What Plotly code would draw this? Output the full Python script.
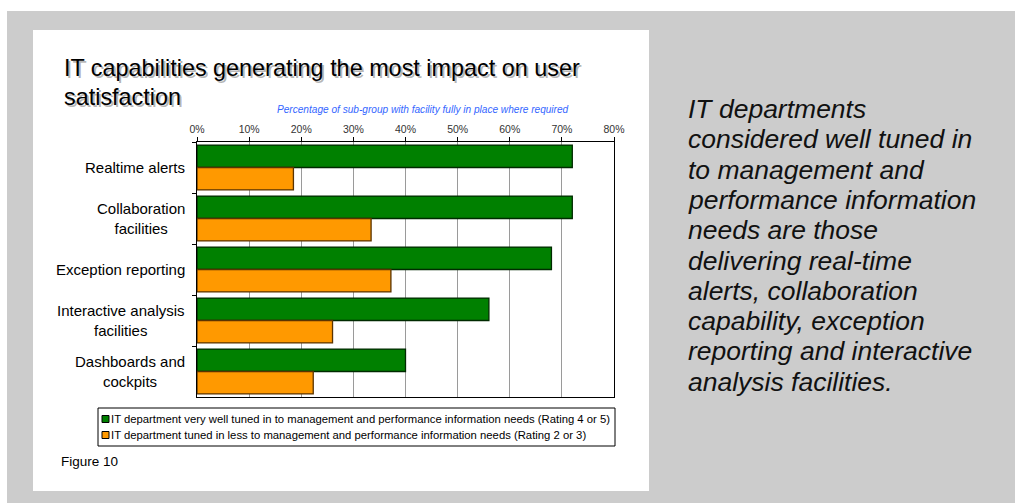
import plotly.graph_objects as go

# ---------------- data ----------------
categories = [
    "Realtime alerts",
    "Collaboration<br>facilities",
    "Exception reporting",
    "Interactive analysis<br>facilities",
    "Dashboards and<br>cockpits",
]
series_names = [
    "IT department very well tuned in to management and performance information needs (Rating 4 or 5)",
    "IT department tuned in less to management and performance information needs (Rating 2 or 3)",
]
well_tuned = [0.72, 0.72, 0.68, 0.56, 0.40]
less_tuned = [0.185, 0.334, 0.372, 0.26, 0.223]
tick_values = [0, 0.1, 0.2, 0.3, 0.4, 0.5, 0.6, 0.7, 0.8]
tick_labels = ["0%", "10%", "20%", "30%", "40%", "50%", "60%", "70%", "80%"]

title_lines = ["IT capabilities generating the most impact on user", "satisfaction"]
subtitle = "Percentage of sub-group with facility fully in place where required"
figure_label = "Figure 10"
side_text = [
    "IT departments",
    "considered well tuned in",
    "to management and",
    "performance information",
    "needs are those",
    "delivering real-time",
    "alerts, collaboration",
    "capability, exception",
    "reporting and interactive",
    "analysis facilities.",
]

# ---------------- layout geometry (pixels) ----------------
W, H = 1015, 503
L, R, T, B = 197, 614, 142, 397          # plot area edges in pixels
FONT = "Liberation Sans, Arial, sans-serif"


def px(xp):
    return (xp - L) / (R - L)


def py(yp):
    return (B - yp) / (B - T)


fig = go.Figure()
colors = ["#008000", "#ff9900"]
edges = ["#002a00", "#5a3300"]
for name, vals, c, e in zip(series_names, [well_tuned, less_tuned], colors, edges):
    fig.add_trace(go.Bar(
        y=categories, x=vals, orientation="h", name=name,
        marker=dict(color=c, line=dict(color=e, width=1.3)),
        showlegend=False,
    ))

shapes = [
    # gray page background
    dict(type="rect", xref="paper", yref="paper", x0=px(7), x1=px(W + 5), y0=py(11), y1=py(H + 5),
         fillcolor="#cccccc", line=dict(width=0), layer="below"),
    # white chart card
    dict(type="rect", xref="paper", yref="paper", x0=px(33), x1=px(649), y0=py(30), y1=py(491),
         fillcolor="#ffffff", line=dict(width=0), layer="below"),
    # legend box
    dict(type="rect", xref="paper", yref="paper", x0=px(98), x1=px(615), y0=py(408), y1=py(446),
         fillcolor="rgba(0,0,0,0)", line=dict(color="#000000", width=1)),
]
legend_rows = [419, 435]
for yy, c in zip(legend_rows, colors):
    shapes.append(dict(type="rect", xref="paper", yref="paper", x0=px(102), x1=px(109),
                       y0=py(yy - 3.5), y1=py(yy + 3.5), fillcolor=c,
                       line=dict(color="#000000", width=1)))

annotations = []
# title with soft shadow
for i, line in enumerate(title_lines):
    yc = 68 + i * 28.7
    annotations.append(dict(text=line, xref="paper", yref="paper", x=px(62), y=py(yc),
                            xanchor="left", yanchor="middle", showarrow=False, xshift=2, yshift=-2,
                            font=dict(family=FONT, size=23.4, color="rgba(0,0,0,0.3)")))
    annotations.append(dict(text=line, xref="paper", yref="paper", x=px(62), y=py(yc),
                            xanchor="left", yanchor="middle", showarrow=False,
                            font=dict(family=FONT, size=23.4, color="#000000")))
annotations.append(dict(text="<i>" + subtitle + "</i>", xref="paper", yref="paper", x=px(275), y=py(109),
                        xanchor="left", yanchor="middle", showarrow=False,
                        font=dict(family=FONT, size=10.1, color="#3366ff")))
# category labels
for cat in categories:
    annotations.append(dict(text=cat, xref="paper", yref="y", x=0, y=cat, xanchor="right",
                            yanchor="middle", align="center", showarrow=False, xshift=-10,
                            font=dict(family=FONT, size=15, color="#000000")))
# legend texts
for yy, name in zip(legend_rows, series_names):
    annotations.append(dict(text=name, xref="paper", yref="paper", x=px(109), y=py(yy),
                            xanchor="left", yanchor="middle", showarrow=False,
                            font=dict(family=FONT, size=11.3, color="#000000")))
annotations.append(dict(text=figure_label, xref="paper", yref="paper", x=px(59), y=py(461),
                        xanchor="left", yanchor="middle", showarrow=False,
                        font=dict(family=FONT, size=13.5, color="#000000")))
# side commentary
for i, line in enumerate(side_text):
    yc = 109 + i * 30.3
    annotations.append(dict(text="<i>" + line + "</i>", xref="paper", yref="paper", x=px(686), y=py(yc),
                            xanchor="left", yanchor="middle", showarrow=False,
                            font=dict(family=FONT, size=26.5, color="#111111")))

fig.update_layout(
    width=W, height=H,
    margin=dict(l=L, r=W - R, t=T, b=H - B, pad=0),
    paper_bgcolor="#ffffff", plot_bgcolor="#ffffff",
    barmode="group", bargap=0.12, bargroupgap=0,
    shapes=shapes, annotations=annotations,
    font=dict(family=FONT),
    xaxis=dict(side="top", range=[0, 0.8], tickvals=tick_values, ticktext=tick_labels,
               showgrid=True, gridcolor="#9a9a9a", gridwidth=1, zeroline=False,
               showline=True, linecolor="#000000", linewidth=1, mirror=True,
               ticks="outside", ticklen=4, tickcolor="#000000",
               tickfont=dict(family=FONT, size=10.5, color="#333333"), fixedrange=True),
    yaxis=dict(type="category", autorange="reversed", tickson="boundaries",
               showgrid=False, showline=True, linecolor="#000000", linewidth=1, mirror=True,
               ticks="outside", ticklen=4, tickcolor="#000000", showticklabels=False,
               fixedrange=True),
)

fig.write_html("out.html")
